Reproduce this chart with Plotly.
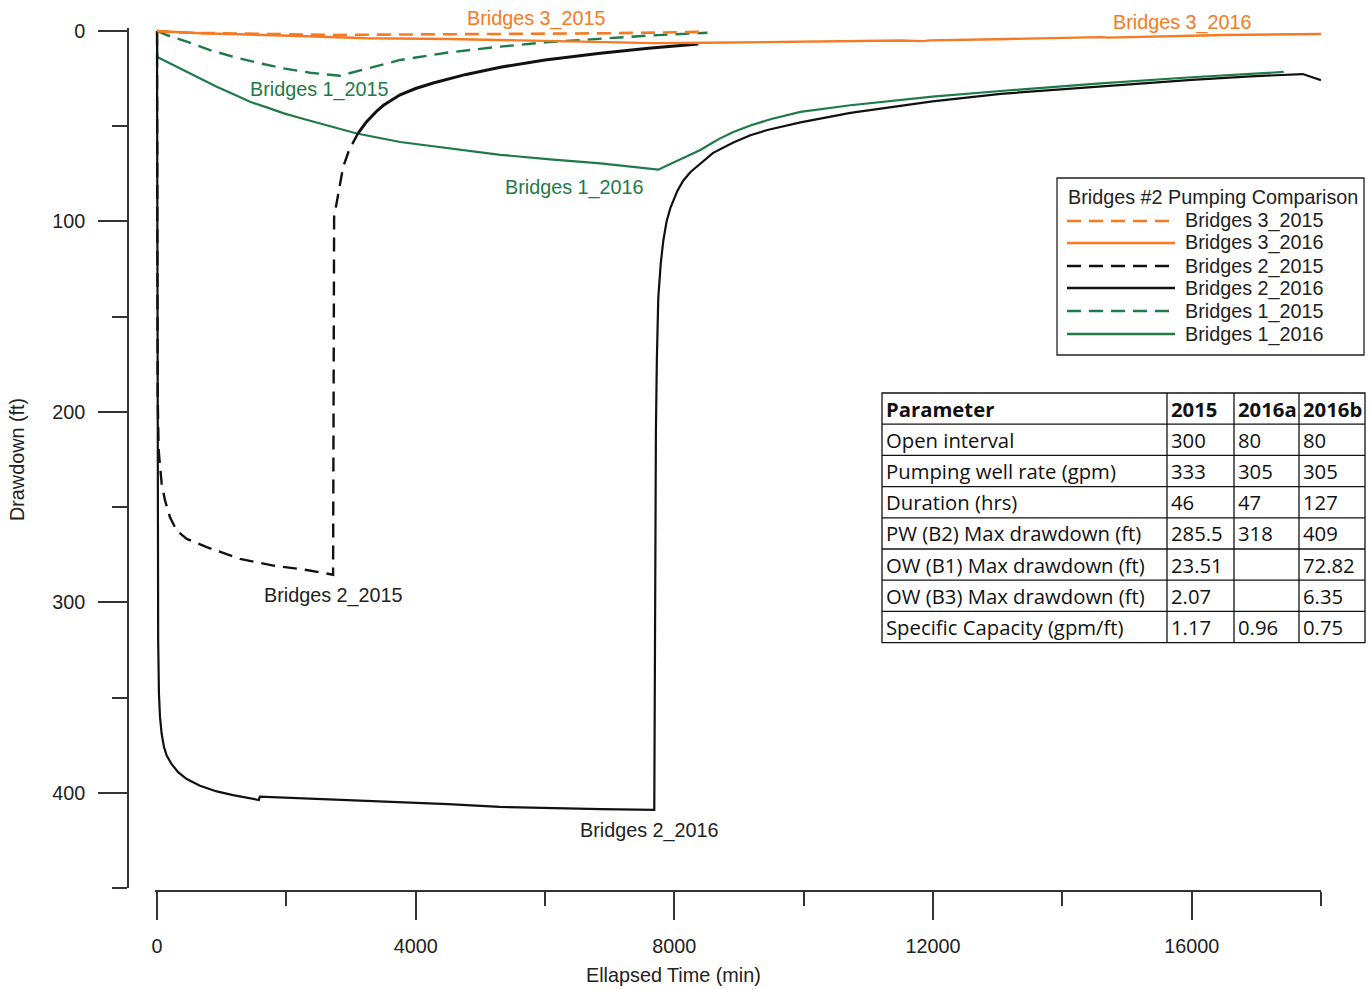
import plotly.graph_objects as go

W, H = 1371, 989

# ---------------- data (elapsed time in min, drawdown in ft) ----------------
b3_2015_t = [0, 300, 1000, 2000, 2760, 3500, 5000, 7000, 8510]
b3_2015_d = [0, 0.8, 1.2, 1.6, 2.07, 1.9, 1.6, 1.2, 0.4]

b3_2016_t = [0, 670, 2200, 3250, 4530, 5500, 6860, 7700, 8500, 9180, 10500, 11500, 11850,
             11950, 13000, 13350, 13450, 14600, 14700, 16500, 18000]
b3_2016_d = [0, 1.2, 2.6, 3.8, 4.2, 4.9, 5.6, 6.35, 6.2, 6.0, 5.5, 5.0, 5.3,
             4.9, 4.3, 4.2, 4.0, 3.2, 3.5, 2.1, 1.6]

b2_2015_t = [0, 3, 10, 25, 46, 72, 124, 201, 304, 460, 769, 1284, 1800, 2316, 2723,
             2726, 2731, 2739, 2785, 2832, 2878, 2971, 3110]
b2_2015_d = [0, 120, 190, 220, 229, 237.7, 246.5, 255.3, 262.3, 266.7, 271, 277.2, 280.7, 283, 285.5,
             200, 125, 97.6, 89, 80, 71.5, 62.5, 53.6]
b2_2015r_t = [3110, 3245, 3400, 3502, 3760, 4000, 4271, 4780, 5308, 6000, 6855, 7600, 8371]
b2_2015r_d = [53.6, 47.5, 42, 39, 33.5, 30.2, 27.3, 22.8, 19, 15.2, 11.7, 9, 6.8]

b2_2016_t = [0, 2, 5, 10, 18, 30, 46, 72, 108, 150, 227, 330, 460, 665, 924, 1176, 1543, 1575, 1590,
             2210, 3000, 3760, 4500, 5300, 6000, 6860, 7690,
             7697, 7705, 7715, 7730, 7752, 7790, 7830, 7880, 7938, 8046, 8140, 8250, 8402, 8600,
             8913, 9176, 9439, 9950, 10723, 11992, 13045, 14592, 16000, 16913, 17717, 18000]
b2_2016_d = [0, 100, 200, 270, 320, 348, 360, 369, 376, 380.5, 385, 389.3, 392.8, 396.3, 399.3, 401.2,
             403.7, 403.8, 402.0,
             402.8, 404, 405, 406, 407.4, 408, 408.6, 409,
             330, 260, 210, 172, 140, 122, 110, 100, 93, 84, 78.5, 74, 69.5, 64,
             58.5, 54.7, 52, 48, 43, 37, 33, 29, 25.7, 23.8, 22.6, 25.8]

b1_2015_t = [0, 150, 460, 820, 1176, 1594, 1955, 2367, 2830, 3300, 3760, 4500, 5308, 6000, 6855,
             7600, 8510]
b1_2015_d = [0, 2.1, 5.6, 10, 13.5, 17, 19.6, 21.9, 23.51, 19.2, 15.2, 11.3, 8.2, 6.0, 3.9, 2.4, 0.9]

b1_2016_t = [0, 5, 97, 252, 460, 665, 924, 1176, 1439, 1698, 1950, 2213, 2471, 2723, 3090, 3760,
             4530, 5310, 6080, 6860, 7750,
             8100, 8402, 8550, 8700, 8913, 9176, 9500, 9950, 10723, 11992, 13045, 14592, 16000,
             16913, 17424]
b1_2016_d = [0, 13.7, 15.2, 17.9, 21.4, 24.9, 29.3, 33.1, 37.2, 40.1, 43.1, 45.7, 48.2, 50.3, 53.8,
             58.3, 61.8, 65, 67.4, 69.5, 72.82,
             67.5, 62.5, 59.5, 56.5, 53, 49.6, 46.2, 42.5, 39, 34.5, 31.5, 27.5, 24.3, 22.5, 21.5]

# table
table_header = ["Parameter", "2015", "2016a", "2016b"]
table_params = ["Open interval", "Pumping well rate (gpm)", "Duration (hrs)",
                "PW (B2) Max drawdown (ft)", "OW (B1) Max drawdown (ft)",
                "OW (B3) Max drawdown (ft)", "Specific Capacity (gpm/ft)"]
table_2015 = ["300", "333", "46", "285.5", "23.51", "2.07", "1.17"]
table_2016a = ["80", "305", "47", "318", "", "", "0.96"]
table_2016b = ["80", "305", "127", "409", "72.82", "6.35", "0.75"]

legend_title = "Bridges #2 Pumping Comparison"
legend_names = ["Bridges 3_2015", "Bridges 3_2016", "Bridges 2_2015",
                "Bridges 2_2016", "Bridges 1_2015", "Bridges 1_2016"]

# ---------------- styles ----------------
ORANGE = "#F57A22"
GREEN = "#1E7A46"
BLACK = "#111111"
AXC = "#333333"
TXT = "#222222"
DASH = "14px,8px"
FONT = "Liberation Sans"
FS = 19.8


def px(x):
    return x / W


def py(y):
    return 1 - y / H


fig = go.Figure()

traces = [
    (b1_2015_t, b1_2015_d, GREEN, DASH, 2.4),
    (b1_2016_t, b1_2016_d, GREEN, "solid", 2.2),
    (b2_2015_t, b2_2015_d, BLACK, DASH, 2.4),
    (b2_2015r_t, b2_2015r_d, BLACK, "solid", 3.0),
    (b2_2016_t, b2_2016_d, BLACK, "solid", 2.2),
    (b3_2015_t, b3_2015_d, ORANGE, DASH, 2.6),
    (b3_2016_t, b3_2016_d, ORANGE, "solid", 2.4),
]
for t, d, c, dash, w in traces:
    fig.add_trace(go.Scatter(x=t, y=d, mode="lines", showlegend=False, hoverinfo="skip",
                             line=dict(color=c, dash=dash, width=w)))

# axis geometry
x_left_px, x_right_px = 157, 1321
x_min = -25
xd0 = x_left_px - (0 - x_min) * (x_right_px - x_left_px) / 18000
y_top_px, y_bot_px = 31, 888
y_min, y_max = -1.5, 450
yd_top = y_top_px - (0 - y_min) * (y_bot_px - y_top_px) / y_max

fig.update_layout(
    width=W, height=H,
    margin=dict(l=0, r=0, t=0, b=0),
    paper_bgcolor="white", plot_bgcolor="white",
    showlegend=False,
    font=dict(family=FONT, size=FS, color=TXT),
    xaxis=dict(
        range=[x_min, 18000], domain=[px(xd0), px(x_right_px)],
        anchor="free", position=py(891),
        showline=True, linecolor=AXC, linewidth=1.5,
        ticks="outside", ticklen=28, tickwidth=1.5, tickcolor=AXC,
        tick0=0, dtick=4000, tickformat="d", showgrid=False, zeroline=False,
        minor=dict(dtick=2000, tick0=0, ticks="outside", ticklen=14, tickwidth=1.5, tickcolor=AXC,
                   showgrid=False),
        tickfont=dict(family=FONT, size=FS, color=TXT),
        ticklabelstandoff=9, automargin=False,
    ),
    yaxis=dict(
        range=[y_max, y_min], domain=[py(y_bot_px), py(yd_top)],
        anchor="free", position=px(128), side="left",
        showline=True, linecolor=AXC, linewidth=1.5,
        ticks="outside", ticklen=29, tickwidth=1.5, tickcolor=AXC,
        tick0=0, dtick=100, tickformat="d", showgrid=False, zeroline=False,
        minor=dict(dtick=50, tick0=0, ticks="outside", ticklen=15, tickwidth=1.5, tickcolor=AXC,
                   showgrid=False),
        tickfont=dict(family=FONT, size=FS, color=TXT),
        ticklabelstandoff=9, automargin=False,
    ),
)


def ydom(v):
    # fraction of the y-axis domain for a drawdown value (reversed axis)
    return (y_max - v) / (y_max - y_min)


ann = []
# axis titles
ann.append(dict(text="Ellapsed Time (min)", x=px(673), y=py(975), xref="paper", yref="paper",
                showarrow=False, xanchor="center", yanchor="middle",
                font=dict(family=FONT, size=FS, color=TXT)))
ann.append(dict(text="Drawdown (ft)", x=px(17), y=py(460), xref="paper", yref="paper",
                showarrow=False, textangle=-90, xanchor="center", yanchor="middle",
                font=dict(family=FONT, size=FS, color=TXT)))

# curve labels (time in data coords, drawdown through the y-axis domain)
curve_labels = [
    ("Bridges 3_2015", 5865, -6.8, ORANGE),
    ("Bridges 3_2016", 15860, -4.7, ORANGE),
    ("Bridges 1_2015", 2507, 30.5, GREEN),
    ("Bridges 1_2016", 6453, 82, GREEN),
    ("Bridges 2_2015", 2723, 296.5, TXT),
    ("Bridges 2_2016", 7613, 420, TXT),
]
for txt, x, y, c in curve_labels:
    ann.append(dict(text=txt, x=x, y=ydom(y), xref="x", yref="y domain", showarrow=False,
                    xanchor="center", yanchor="middle", font=dict(family=FONT, size=FS, color=c)))

shapes = []
# legend box
shapes.append(dict(type="rect", xref="paper", yref="paper", x0=px(1057), x1=px(1364),
                   y0=py(355), y1=py(178), line=dict(color="#222", width=1.3),
                   fillcolor="white", layer="above"))
ann.append(dict(text=legend_title, x=px(1066), y=py(197), xref="paper", yref="paper",
                showarrow=False, xanchor="left", yanchor="middle",
                font=dict(family=FONT, size=FS, color=TXT)))
leg_styles = [(ORANGE, DASH), (ORANGE, "solid"), (BLACK, DASH), (BLACK, "solid"),
              (GREEN, DASH), (GREEN, "solid")]
leg_y = [221, 243, 266, 288, 311, 334]
for name, (c, dash), yy in zip(legend_names, leg_styles, leg_y):
    shapes.append(dict(type="line", xref="paper", yref="paper", x0=px(1067), x1=px(1175),
                       y0=py(yy), y1=py(yy), line=dict(color=c, width=2.4, dash=dash)))
    ann.append(dict(text=name, x=px(1183), y=py(yy), xref="paper", yref="paper",
                    showarrow=False, xanchor="left", yanchor="middle",
                    font=dict(family=FONT, size=FS, color=TXT)))

# table drawn in paper coordinates
col_edges = [882, 1167, 1234, 1299, 1365]
row_top, row_h, n_rows = 393, 31.2, 8
row_edges = [row_top + i * row_h for i in range(n_rows + 1)]
shapes.append(dict(type="rect", xref="paper", yref="paper", x0=px(col_edges[0]), x1=px(col_edges[-1]),
                   y0=py(row_edges[-1]), y1=py(row_edges[0]), line=dict(color="#111", width=1.3),
                   fillcolor="white", layer="above"))
for xe in col_edges[1:-1]:
    shapes.append(dict(type="line", xref="paper", yref="paper", x0=px(xe), x1=px(xe),
                       y0=py(row_edges[-1]), y1=py(row_edges[0]), line=dict(color="#111", width=1.3)))
for ye in row_edges[1:-1]:
    shapes.append(dict(type="line", xref="paper", yref="paper", x0=px(col_edges[0]), x1=px(col_edges[-1]),
                       y0=py(ye), y1=py(ye), line=dict(color="#111", width=1.3)))

TFONT = "Open Sans"
TFS = 20.3
table_rows = [["<b>%s</b>" % h for h in table_header]] + [
    [a, b, c, d] for a, b, c, d in zip(table_params, table_2015, table_2016a, table_2016b)]
for r, row in enumerate(table_rows):
    yc = (row_edges[r] + row_edges[r + 1]) / 2
    for ci, val in enumerate(row):
        if val == "":
            continue
        ann.append(dict(text=val, x=px(col_edges[ci] + 2), y=py(yc), xref="paper", yref="paper",
                        showarrow=False, xanchor="left", yanchor="middle",
                        font=dict(family=TFONT, size=TFS, color="#111")))

fig.update_layout(annotations=ann, shapes=shapes)
fig.write_html("out.html")
